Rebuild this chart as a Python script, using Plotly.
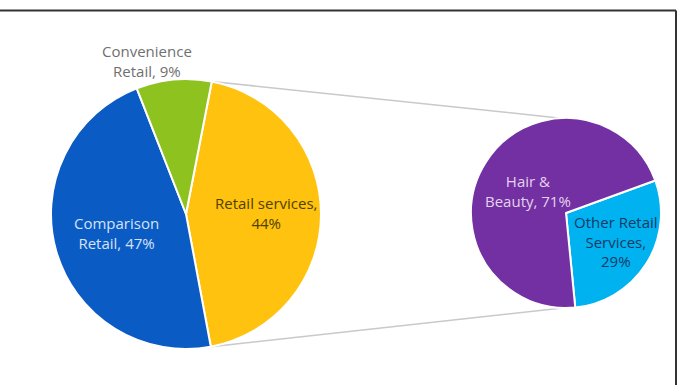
import math
import plotly.graph_objects as go

# Retail mix (main pie) and breakdown of retail services (secondary pie)
main_labels = ["Retail services", "Comparison Retail", "Convenience Retail"]
main_values = [44, 47, 9]
main_colors = ["#FFC20E", "#0A5BC4", "#8DC21F"]

sub_labels = ["Other Retail Services", "Hair & Beauty"]
sub_values = [29, 71]
sub_colors = ["#00B2F0", "#7330A2"]

W, H = 690, 385

# pie geometry in pixels (centre x, centre y from top, radius)
MAIN = dict(cx=186, cy=214, r=135)
SUB = dict(cx=566, cy=213, r=95)
MAIN_ROT = 11   # retail services wedge starts just right of 12 o'clock
SUB_ROT = 70


def domain(g):
    return dict(
        x=[(g["cx"] - g["r"]) / W, (g["cx"] + g["r"]) / W],
        y=[(H - g["cy"] - g["r"]) / H, (H - g["cy"] + g["r"]) / H],
    )


def edge_point(g, angle_deg):
    """Paper coordinates of the rim point at a clockwise angle from 12 o'clock."""
    a = math.radians(angle_deg)
    x = g["cx"] + g["r"] * math.sin(a)
    y = g["cy"] - g["r"] * math.cos(a)
    return x / W, (H - y) / H


fig = go.Figure()
fig.add_trace(go.Pie(
    labels=main_labels, values=main_values, sort=False, direction="clockwise",
    rotation=MAIN_ROT, domain=domain(MAIN), textinfo="none", hoverinfo="label+percent",
    marker=dict(colors=main_colors, line=dict(color="white", width=2)),
    showlegend=False,
))
fig.add_trace(go.Pie(
    labels=sub_labels, values=sub_values, sort=False, direction="clockwise",
    rotation=SUB_ROT, domain=domain(SUB), textinfo="none", hoverinfo="label+percent",
    marker=dict(colors=sub_colors, line=dict(color="white", width=2)),
    showlegend=False,
))

# connector lines from the retail services wedge to the breakdown pie
start_deg = MAIN_ROT
end_deg = MAIN_ROT + 360 * main_values[0] / sum(main_values)
p1 = edge_point(MAIN, start_deg)
p2 = edge_point(MAIN, end_deg)
q1 = edge_point(SUB, -3)
q2 = edge_point(SUB, 182)
shapes = [
    dict(type="line", xref="paper", yref="paper", x0=p1[0], y0=p1[1], x1=q1[0], y1=q1[1],
         line=dict(color="#c9c9c9", width=1.5), layer="below"),
    dict(type="line", xref="paper", yref="paper", x0=p2[0], y0=p2[1], x1=q2[0], y1=q2[1],
         line=dict(color="#c9c9c9", width=1.5), layer="below"),
    # chart frame (top and right edges)
    dict(type="line", xref="paper", yref="paper", x0=0, y0=(H - 10.5) / H, x1=676 / W, y1=(H - 10.5) / H,
         line=dict(color="#333333", width=2)),
    dict(type="line", xref="paper", yref="paper", x0=676 / W, y0=0, x1=676 / W, y1=(H - 10.5) / H,
         line=dict(color="#333333", width=2)),
]

FONT = "Open Sans"


def label(text, px, py, color):
    return dict(
        text=text, x=px / W, y=(H - py) / H, xref="paper", yref="paper",
        showarrow=False, xanchor="center", yanchor="middle", align="center",
        font=dict(family=FONT, size=15, color=color),
    )


annotations = [
    label(f"Convenience<br>Retail, {main_values[2]}%", 147, 61, "#707070"),
    label(f"Comparison<br>Retail, {main_values[1]}%", 116, 233, "#d6e3f6"),
    label(f"Retail services,<br>{main_values[0]}%", 266, 213, "#4f4100"),
    label(f"Hair &<br>Beauty, {sub_values[1]}%", 528, 191, "#e3d3ee"),
    label(f"Other Retail<br>Services,<br>{sub_values[0]}%", 616, 241, "#123a66"),
]

fig.update_layout(
    width=W, height=H, margin=dict(l=0, r=0, t=0, b=0),
    paper_bgcolor="white", plot_bgcolor="white",
    shapes=shapes, annotations=annotations,
)

fig.write_html("out.html")
